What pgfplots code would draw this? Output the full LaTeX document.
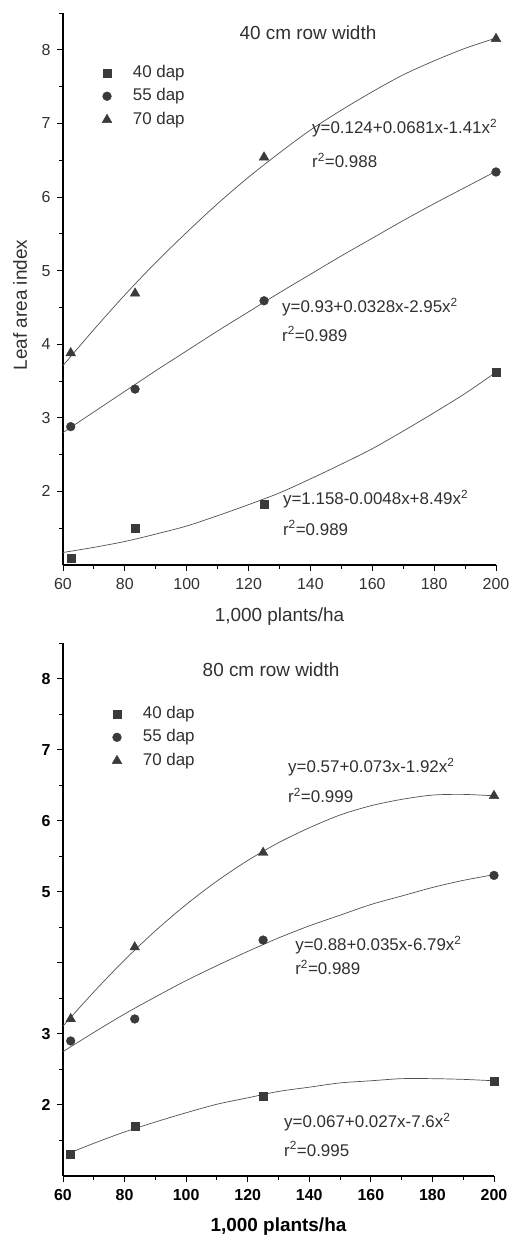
\documentclass[border=0pt]{standalone}
\usepackage{fontspec}
\setmainfont{Liberation Sans}
\usepackage{pgfplots}
\pgfplotsset{compat=1.18}
\definecolor{mk}{HTML}{3A3A3A}
\definecolor{ln}{HTML}{505050}
\definecolor{tx}{HTML}{303030}

\tikzset{eq/.style={anchor=west, text=tx, font=\fontsize{17}{17}\selectfont, inner sep=0pt}}
\pgfplotsset{
  lai/.style={
    scale only axis,
    axis lines=left,
    axis line style={-, line width=1.1bp, black},
    xmin=60, xmax=200, ymin=1, ymax=8.5,
    xtick={60,80,...,200}, minor xtick={70,90,...,190},
    ytick={2,...,8}, minor ytick={1.5,2.5,...,8.5},
    tick align=outside,
    major tick length=6bp, minor tick length=4bp,
    every tick/.style={line width=0.9bp, black},
    /pgf/number format/assume math mode=true,
    clip=false,
    legend style={draw=none, fill=none, inner xsep=0pt, inner ysep=0pt,
      font=\fontsize{17}{17}\selectfont, text=tx,
      nodes={inner sep=2bp, text height=12bp, text depth=3bp},
      row sep=4.5bp, anchor=north west, legend cell align=left},
  },
  sq/.style={only marks, mark=square*, mark size=4bp, color=mk, mark options={fill=mk, draw=mk}},
  ci/.style={only marks, mark=*, mark size=4.4bp, color=mk, mark options={fill=mk, draw=mk}},
  tr/.style={only marks, mark=triangle*, mark size=5.6bp, color=mk, mark options={fill=mk, draw=mk}},
  fit/.style={no marks, smooth, line width=0.7bp, color=ln, forget plot},
}
\newcommand{\legtxt}[1]{\hspace*{19bp}#1}

\begin{document}
\begin{tikzpicture}
\path[use as bounding box] (0bp,0bp) rectangle (510bp,-1235bp);

% ---------------- Top panel: 40 cm row width ----------------
\begin{axis}[lai,
  at={(63bp,-565bp)}, anchor=south west,
  width=433bp, height=552bp,
  xticklabel style={font=\fontsize{16}{16}\selectfont, text=tx, yshift=-4bp},
  yticklabel style={font=\fontsize{16}{16}\selectfont, text=tx, xshift=-3bp},
  xlabel={1,000 plants/ha},
  xlabel style={at={(axis description cs:0.5,0)}, anchor=center, yshift=-52bp, font=\fontsize{19}{19}\selectfont, text=tx},
  ylabel={Leaf area index},
  ylabel style={at={(axis description cs:-0.0993,0.471)}, anchor=center, font=\fontsize{19}{19}\selectfont, text=tx},
  legend style={at={(axis cs:72.6,7.82)}},
]
\addplot[sq] coordinates {(62.5,1.09) (83.3,1.50) (125,1.82) (200,3.62)};
\addlegendentry{\legtxt{40 dap}}
\addplot[ci] coordinates {(62.5,2.88) (83.3,3.39) (125,4.59) (200,6.34)};
\addlegendentry{\legtxt{55 dap}}
\addplot[tr] coordinates {(62.5,3.88) (83.3,4.69) (125,6.54) (200,8.15)};
\addlegendentry{\legtxt{70 dap}}

\addplot[fit] coordinates {(60,1.17) (70,1.24) (80,1.32) (90,1.42) (100,1.53) (110,1.67) (120,1.82) (130,1.98) (140,2.17) (150,2.37) (160,2.58) (170,2.82) (180,3.07) (190,3.33) (200,3.62)};
\addplot[fit] coordinates {(60,2.80) (70,3.08) (80,3.36) (90,3.64) (100,3.91) (110,4.18) (120,4.44) (130,4.70) (140,4.95) (150,5.20) (160,5.44) (170,5.68) (180,5.91) (190,6.13) (200,6.35)};
\addplot[fit] coordinates {(60,3.71) (70,4.20) (80,4.67) (90,5.11) (100,5.52) (110,5.91) (120,6.27) (130,6.60) (140,6.91) (150,7.18) (160,7.43) (170,7.66) (180,7.85) (190,8.02) (200,8.16)};

\node[anchor=center, text=tx, font=\fontsize{19}{19}\selectfont] at (axis cs:139.2,8.23) {40 cm row width};
\node[eq] at (axis cs:140.5,6.94) {y=0.124+0.0681x-1.41x\textsuperscript{2}};
\node[eq] at (axis cs:140.5,6.50) {r\textsuperscript{2}=0.988};
\node[eq] at (axis cs:130.8,4.505) {y=0.93+0.0328x-2.95x\textsuperscript{2}};
\node[eq] at (axis cs:130.8,4.14) {r\textsuperscript{2}=0.989};
\node[eq] at (axis cs:131.1,1.897) {y=1.158-0.0048x+8.49x\textsuperscript{2}};
\node[eq] at (axis cs:131.1,1.503) {r\textsuperscript{2}=0.989};
\end{axis}

% ---------------- Bottom panel: 80 cm row width ----------------
\begin{axis}[lai,
  at={(63bp,-1176bp)}, anchor=south west,
  width=431bp, height=533bp,
  yticklabels={2,3,,5,6,7,8},
  xticklabel style={font=\fontsize{16}{16}\selectfont\bfseries, text=black, yshift=-4bp},
  yticklabel style={font=\fontsize{16}{16}\selectfont\bfseries, text=black, xshift=-3bp},
  xlabel={1,000 plants/ha},
  xlabel style={at={(axis description cs:0.5,0)}, anchor=center, yshift=-51bp, font=\fontsize{19}{19}\selectfont\bfseries, text=black},
  legend style={at={(axis cs:75.9,7.64)}},
]
\addplot[sq] coordinates {(62.5,1.31) (83.3,1.70) (125,2.13) (200,2.34)};
\addlegendentry{\legtxt{40 dap}}
\addplot[ci] coordinates {(62.5,2.90) (83.3,3.21) (125,4.32) (200,5.23)};
\addlegendentry{\legtxt{55 dap}}
\addplot[tr] coordinates {(62.5,3.21) (83.3,4.22) (125,5.55) (200,6.35)};
\addlegendentry{\legtxt{70 dap}}

\addplot[fit] coordinates {(62.5,1.33) (70,1.46) (80,1.62) (90,1.76) (100,1.89) (110,2.01) (120,2.10) (130,2.19) (140,2.25) (150,2.31) (160,2.34) (170,2.37) (180,2.37) (190,2.36) (200,2.34)};
\addplot[fit] coordinates {(60,2.75) (70,3.02) (80,3.28) (90,3.52) (100,3.75) (110,3.96) (120,4.16) (130,4.35) (140,4.52) (150,4.67) (160,4.82) (170,4.94) (180,5.06) (190,5.16) (200,5.24)};
\addplot[fit] coordinates {(60,3.11) (70,3.59) (80,4.04) (90,4.45) (100,4.82) (110,5.15) (120,5.44) (130,5.69) (140,5.90) (150,6.08) (160,6.21) (170,6.30) (180,6.36) (190,6.37) (200,6.35)};

\node[anchor=center, text=tx, font=\fontsize{19}{19}\selectfont] at (axis cs:127.6,8.13) {80 cm row width};
\node[eq] at (axis cs:133.1,6.755) {y=0.57+0.073x-1.92x\textsuperscript{2}};
\node[eq] at (axis cs:133.1,6.36) {r\textsuperscript{2}=0.999};
\node[eq] at (axis cs:135.4,4.25) {y=0.88+0.035x-6.79x\textsuperscript{2}};
\node[eq] at (axis cs:135.4,3.93) {r\textsuperscript{2}=0.989};
\node[eq] at (axis cs:131.8,1.76) {y=0.067+0.027x-7.6x\textsuperscript{2}};
\node[eq] at (axis cs:131.8,1.38) {r\textsuperscript{2}=0.995};
\end{axis}
\end{tikzpicture}
\end{document}
